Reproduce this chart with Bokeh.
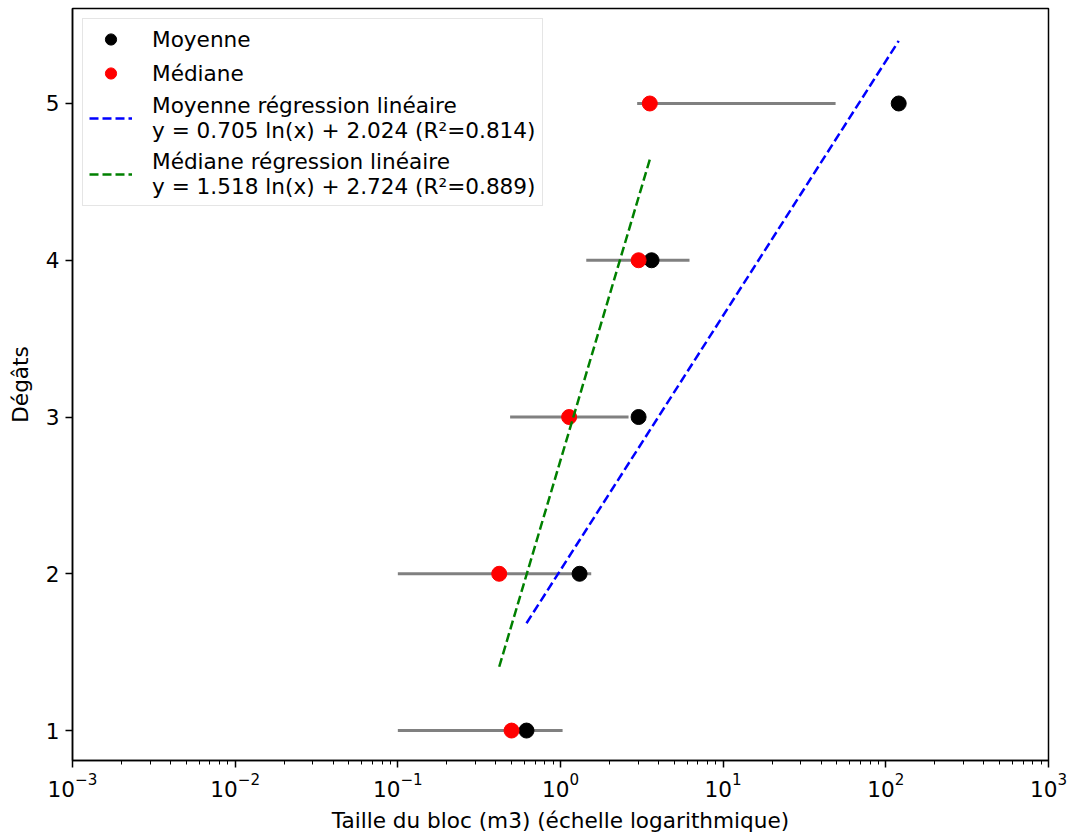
import math

from bokeh.embed import file_html
from bokeh.models import (ColumnDataSource, FixedTicker, Legend, LegendItem,
                          Range1d)
from bokeh.plotting import figure
from bokeh.resources import INLINE

# Damage level per class and block size statistics (m3)
degats = [1, 2, 3, 4, 5]
moyenne = [0.618, 1.31, 3.02, 3.63, 120.0]
mediane = [0.50, 0.42, 1.13, 3.02, 3.54]
borne_basse = [0.10, 0.10, 0.49, 1.44, 2.96]
borne_haute = [1.03, 1.545, 2.62, 6.21, 49.1]

# Regression coefficients: y = a ln(x) + b  (and R²)
reg_moy = (0.705, 2.024, 0.814)
reg_med = (1.518, 2.724, 0.889)

FONT = "DejaVu Sans"
FS = "21.6px"

p = figure(width=1069, height=836, x_axis_type="log",
           x_range=Range1d(1e-3, 1e3), y_range=Range1d(0.809, 5.606),
           output_backend="svg", toolbar_location=None,
           min_border_left=72, min_border_right=21,
           min_border_top=8, min_border_bottom=76)

p.xgrid.visible = False
p.ygrid.visible = False
p.outline_line_color = "black"
p.outline_line_width = 1.5
p.background_fill_color = "white"
p.border_fill_color = "white"

# Axes
for ax in (p.xaxis[0], p.yaxis[0]):
    ax.axis_line_color = "black"
    ax.axis_line_width = 1.5
    ax.major_tick_line_color = "black"
    ax.major_tick_line_width = 1.5
    ax.major_tick_out = 7
    ax.major_tick_in = 0
    ax.minor_tick_line_color = "black"
    ax.minor_tick_line_width = 1
    ax.minor_tick_out = 4
    ax.minor_tick_in = 0
    ax.major_label_text_font = FONT
    ax.major_label_text_font_size = FS
    ax.major_label_text_color = "black"
    ax.axis_label_text_font = FONT
    ax.axis_label_text_font_size = FS
    ax.axis_label_text_font_style = "normal"
    ax.axis_label_text_color = "black"

p.xaxis.axis_label = "Taille du bloc (m3) (échelle logarithmique)"
p.yaxis.axis_label = "Dégâts"
p.yaxis.ticker = FixedTicker(ticks=degats)
p.yaxis.minor_tick_line_color = None
p.xaxis.major_label_standoff = 5
p.yaxis.major_label_standoff = 6
p.xaxis.axis_label_standoff = 8
p.yaxis.axis_label_standoff = 10

# Spread bars
src = ColumnDataSource(dict(y=degats, lo=borne_basse, hi=borne_haute,
                            moy=moyenne, med=mediane))
p.segment(x0="lo", y0="y", x1="hi", y1="y", source=src,
          line_color="#808080", line_width=3)

r_moy = p.scatter(x="moy", y="y", source=src, size=15,
                  fill_color="black", line_color="black")
r_med = p.scatter(x="med", y="y", source=src, size=15,
                  fill_color="#ff0000", line_color="#ff0000")


def reg_line(xs, coef):
    a, b, _ = coef
    x_ends = [min(xs), max(xs)]
    return x_ends, [a * math.log(x) + b for x in x_ends]


xm, ym = reg_line(moyenne, reg_moy)
xd, yd = reg_line(mediane, reg_med)
r_lmoy = p.line(xm, ym, line_color="#0000ff", line_width=2.5, line_dash="9 4")
r_lmed = p.line(xd, yd, line_color="#008000", line_width=2.5, line_dash="9 4")

lab_moy = "Moyenne régression linéaire\ny = %.3f ln(x) + %.3f (R²=%.3f)" % reg_moy
lab_med = "Médiane régression linéaire\ny = %.3f ln(x) + %.3f (R²=%.3f)" % reg_med

legend = Legend(items=[
    LegendItem(label="Moyenne", renderers=[r_moy]),
    LegendItem(label="Médiane", renderers=[r_med]),
    LegendItem(label=lab_moy, renderers=[r_lmoy]),
    LegendItem(label=lab_med, renderers=[r_lmed]),
], location="top_left")
legend.margin = 10
legend.padding = 6
legend.spacing = 6
legend.glyph_width = 43
legend.glyph_height = 28
legend.label_standoff = 20
legend.label_text_font = FONT
legend.label_text_font_size = FS
legend.label_text_color = "black"
legend.label_height = 28
legend.border_line_color = "#cccccc"
legend.border_line_width = 1.5
legend.background_fill_alpha = 0.8
p.add_layout(legend)

open("out.html", "w").write(file_html(p, INLINE))
